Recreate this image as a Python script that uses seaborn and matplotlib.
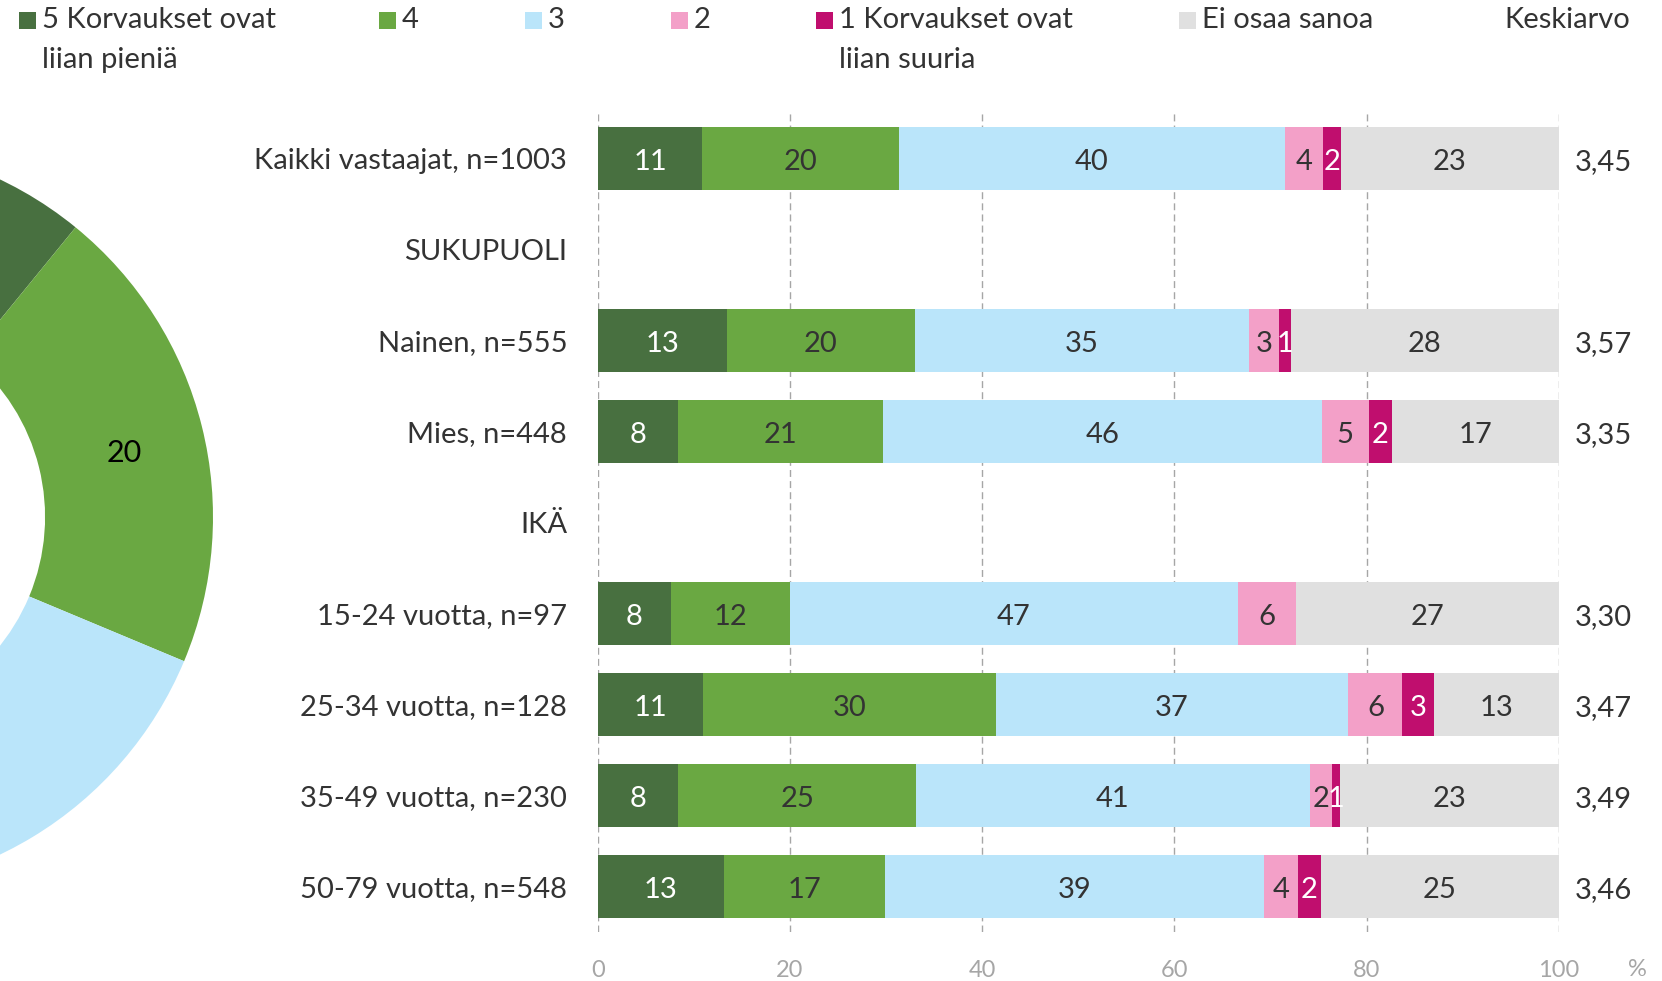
import matplotlib.pyplot as plt
import matplotlib.patches as mpatches
import numpy as np
import pandas as pd
import seaborn as sns

sns.set_theme(style="white")
plt.rcParams["font.family"] = ["Lato", "DejaVu Sans"]


# Data
rows = ["Kaikki vastaajat, n=1003", "SUKUPUOLI", "Nainen, n=555", "Mies, n=448", "IKÄ",
        "15-24 vuotta, n=97", "25-34 vuotta, n=128", "35-49 vuotta, n=230", "50-79 vuotta, n=548"]
categories = ["5 Korvaukset ovat\nliian pieniä", "4", "3", "2",
              "1 Korvaukset ovat\nliian suuria", "Ei osaa sanoa"]

nan = np.nan
cat5 = [10.9, nan, 13.4, 8.4, nan, 7.6, 11.0, 8.4, 13.1]
cat4 = [20.4, nan, 19.6, 21.3, nan, 12.4, 30.4, 24.7, 16.8]
cat3 = [40.2, nan, 34.8, 45.6, nan, 46.6, 36.7, 41.0, 39.4]
cat2 = [4.0, nan, 3.1, 4.9, nan, 6.0, 5.6, 2.3, 3.6]
cat1 = [1.8, nan, 1.2, 2.4, nan, 0.0, 3.3, 0.8, 2.3]
eos = [22.7, nan, 27.9, 17.4, nan, 27.4, 13.0, 22.8, 24.8]
means = [3.45, nan, 3.57, 3.35, nan, 3.30, 3.47, 3.49, 3.46]

colors = ["#487040", "#6aa842", "#bae5fa", "#f3a0c8", "#c00e6e", "#e0e0e0"]
text_colors = ["white", "#333333", "#333333", "#333333", "white", "#333333"]
dark = "#333333"
fs = 21

df = pd.DataFrame({"row": rows, "c5": cat5, "c4": cat4, "c3": cat3,
                   "c2": cat2, "c1": cat1, "eos": eos})
series = ["c5", "c4", "c3", "c2", "c1", "eos"]
cum = df[series].cumsum(axis=1, skipna=False)

W, H = 1662, 981
fig = plt.figure(figsize=(W / 100, H / 100), dpi=100)

# Stacked bars (drawn as overlapping cumulative bars)
ax = fig.add_axes([597.7 / W, 1 - 932 / H, (1559 - 597.7) / W, (932 - 113) / H])
for i in reversed(range(len(series))):
    sns.barplot(x=cum[series[i]], y=df["row"], order=rows, orient="h", color=colors[i],
                saturation=1, width=0.687, errorbar=None, linewidth=0, ax=ax)

for j in range(len(rows)):
    for i, s in enumerate(series):
        v = df[s].iloc[j]
        if np.isnan(v) or v <= 0:
            continue
        xc = cum[s].iloc[j] - v / 2
        ax.text(xc, j + 0.035, f"{v:.0f}", ha="center", va="center", fontsize=fs,
                color=text_colors[i])
    if not np.isnan(means[j]):
        ax.text(104.6, j + 0.035, f"{means[j]:.2f}".replace(".", ","), ha="center",
                va="center", fontsize=fs, color=dark, clip_on=False)

ax.set_xlim(0, 100)
ax.set_ylim(8.5, -0.5)
ax.set_xticks(range(0, 101, 20))
ax.set_xlabel("")
ax.set_ylabel("")
ax.set_yticks(range(len(rows)))
ax.set_yticklabels(rows, fontsize=fs, color=dark)
ax.tick_params(axis="y", length=0, pad=22)
ax.tick_params(axis="x", length=0, pad=20, labelsize=17, labelcolor="#a6a6a6")
ax.xaxis.grid(True, linestyle=(0, (5, 3)), color="#a6a6a6", linewidth=1)
ax.yaxis.grid(False)
ax.set_axisbelow(True)
for sp in ax.spines.values():
    sp.set_visible(False)

fig.text(1637 / W, 1 - 970 / H, "%", ha="center", va="center", fontsize=17, color="#a6a6a6")

# Donut (Kaikki vastaajat), partly outside the figure
pie_vals = [df[s].iloc[0] for s in series]
ax2 = fig.add_axes([-535 / W, 1 - 891 / H, 748 / W, 748 / H])
wedges, texts, autotexts = ax2.pie(
    pie_vals, colors=colors, startangle=90, counterclock=False, radius=1,
    wedgeprops=dict(width=0.449, linewidth=0),
    autopct=lambda p: f"{p:.0f}", pctdistance=0.785,
    textprops=dict(fontsize=22, color="black"))
for t in autotexts:
    x, y = t.get_position()
    t.set_position((x, y - 0.02))
ax2.set_xlim(-1, 1)
ax2.set_ylim(-1, 1)
ax2.axis("off")

# Legend
legend_x = [19, 379, 525, 671, 816, 1179]
for x, lab, c in zip(legend_x, categories, colors):
    fig.add_artist(mpatches.Rectangle((x / W, 1 - 29 / H), 17 / W, 17 / H,
                                      transform=fig.transFigure, color=c, linewidth=0))
    fig.text((x + 23) / W, 1 - 7 / H, lab, ha="left", va="top", fontsize=fs,
             color=dark, linespacing=1.65)
fig.text(1630 / W, 1 - 7 / H, "Keskiarvo", ha="right", va="top", fontsize=fs, color=dark)

fig.savefig("out.png", dpi=100)
